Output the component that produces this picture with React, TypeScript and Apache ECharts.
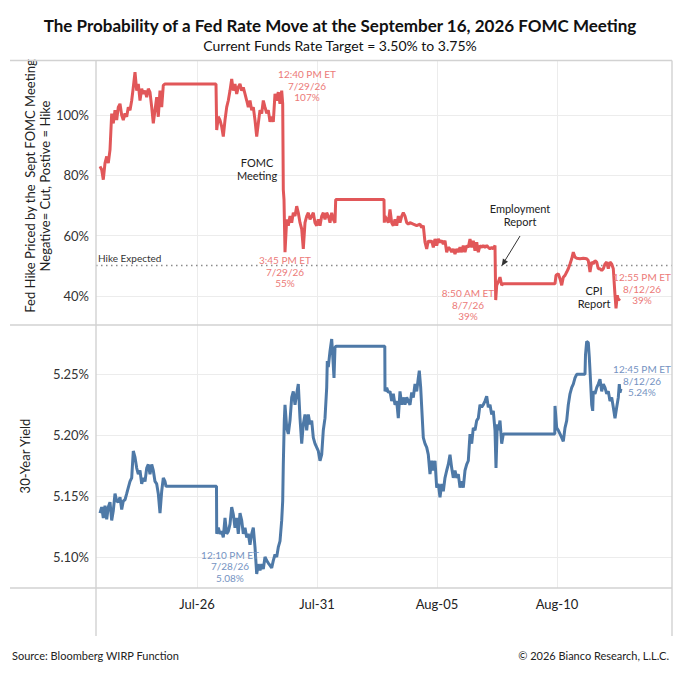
import React, { useEffect, useRef } from "react";
import * as echarts from "echarts";

// Time axis: hours since Jul 22, 2026 00:00 ET
const xTickHours = [96, 216, 336, 456];
const xTickLabels = ["Jul-26", "Jul-31", "Aug-05", "Aug-10"];
const fedTicks = [40, 60, 80, 100];
const yieldTicks = [5.1, 5.15, 5.2, 5.25];
const hikeExpectedLevel = 50;

// Fed hike priced for the Sept FOMC meeting (%), [hour, value]
const fedHike: [number, number][] = [
  [-1, 83.0], [0.7, 81.9], [2.3, 78.6], [4, 84.1], [5.7, 86.3], [7.3, 84.1], [9, 88.5], [10.7, 100.6],
  [12.3, 97.3], [14, 101.7], [15.7, 98.4], [17.3, 102.7], [19, 103.8], [20.7, 100.0], [22.3, 98.4],
  [24, 100.6], [25.7, 99.5], [27.3, 102.7], [29, 101.7], [30.7, 104.9], [32.3, 109.3], [34, 114.3],
  [35.7, 108.2], [37.3, 110.4], [39, 104.9], [40.7, 108.8], [42.3, 107.1], [44, 108.2], [45.7, 106.0],
  [47.3, 108.8], [49, 107.7], [50.7, 102.7], [52.3, 97.3], [54, 101.7], [55.7, 106.0], [57.3, 99.5],
  [59, 108.2], [60.7, 102.7], [62.3, 109.9], [64, 110.4], [115, 110.4], [115.7, 95.1], [117.3, 99.5],
  [119, 98.4], [120.7, 96.2], [122.3, 92.9], [124, 98.4], [125.7, 102.7], [127.3, 104.9], [129, 108.2],
  [130.7, 112.1], [132.3, 108.2], [134, 110.4], [135.7, 107.1], [137.3, 109.3], [139, 110.4],
  [140.7, 108.2], [142.3, 109.3], [144, 107.1], [145.7, 104.9], [147.3, 102.7], [149, 104.9],
  [150.7, 101.7], [152.3, 102.7], [154, 98.4], [155.7, 92.9], [157.3, 97.3], [159, 101.7],
  [160.7, 100.6], [162.3, 104.9], [164, 102.7], [165.7, 100.6], [167.3, 101.7], [169, 97.8],
  [170.7, 99.5], [172.3, 97.8], [174, 107.1], [175.7, 104.9], [177.3, 107.7], [179, 103.8],
  [180.7, 108.2], [181.7, 103.8], [182.3, 75.3], [183, 72.0], [184, 54.5], [185.7, 65.4], [187.3, 63.3],
  [189, 66.5], [190.7, 64.3], [192.3, 67.6], [194, 66.5], [195.7, 69.8], [197.3, 67.6], [199, 64.3],
  [200.7, 62.2], [202.3, 55.6], [204, 64.3], [205.7, 66.5], [207.3, 67.6], [209, 65.4], [210.7, 66.5],
  [212.3, 67.6], [214, 64.3], [215.7, 63.3], [217.3, 65.4], [219, 63.3], [220.7, 66.5], [222.3, 67.6],
  [224, 65.4], [225.7, 67.6], [227.3, 66.5], [229, 64.3], [230.7, 67.6], [232.3, 65.4], [234, 64.3],
  [234.7, 72.0], [283, 72.0], [283.3, 64.3], [284, 66.5], [285.7, 65.4], [287.3, 64.3], [289, 68.7],
  [290.7, 64.3], [292.3, 63.3], [294, 65.4], [295.7, 63.3], [297.3, 66.5], [299, 64.3], [300.7, 66.5],
  [302.3, 67.6], [304, 66.5], [305.7, 64.3], [307.3, 63.8], [309, 64.3], [312.3, 63.8], [315.7, 63.3],
  [319, 63.8], [320.7, 62.7], [322.3, 63.3], [324, 57.8], [325.7, 55.6], [327.3, 58.3], [329, 57.8],
  [330.7, 58.3], [332.3, 56.1], [334, 58.9], [335.7, 56.7], [337.3, 58.9], [339, 57.8], [340.7, 58.3],
  [342.3, 57.2], [344, 58.3], [345.7, 54.5], [347.3, 56.1], [349, 55.6], [350.7, 54.5], [352.3, 55.6],
  [354, 53.9], [355.7, 55.6], [357.3, 54.5], [359, 56.1], [360.7, 54.5], [362.3, 56.7], [364, 54.5],
  [365.7, 56.7], [367.3, 56.1], [369, 58.9], [370.7, 56.1], [372.3, 58.3], [374, 55.0], [375.7, 57.8],
  [377.3, 54.5], [379, 56.7], [380.7, 56.1], [382.3, 56.7], [384, 56.1], [385.7, 56.7], [387.3, 56.1],
  [389, 55.6], [390.7, 56.1], [392.3, 55.6], [394, 56.7], [394.7, 38.6], [395.7, 43.5], [397.3, 44.6],
  [399, 46.2], [400.7, 43.5], [402.3, 44.0], [454, 44.0], [455, 46.8], [457.3, 47.3], [459, 45.7],
  [460.7, 43.5], [462.3, 46.2], [464, 46.8], [465.7, 47.9], [467.3, 49.0], [469, 50.6], [470.7, 52.3],
  [472.3, 54.5], [474, 52.8], [475.7, 52.5], [479, 52.3], [482.3, 52.5], [485.7, 52.3], [487.3, 51.7],
  [489, 47.9], [490.7, 51.2], [492.3, 50.6], [494, 51.7], [495.7, 51.2], [497.3, 49.0], [499, 49.0],
  [500.7, 48.4], [502.3, 49.0], [504, 50.6], [505.7, 51.2], [507.3, 49.0], [509, 51.2], [510.7, 50.6],
  [512.3, 49.0], [514, 40.2], [515, 35.8], [516.3, 40.2], [517.3, 38.6], [519, 39.1], [519.7, 39.1],
];

// 30-year Treasury yield (%), [hour, value]
const ust30Yield: [number, number][] = [
  [-1, 5.136], [0.7, 5.141], [2.3, 5.132], [4, 5.142], [5.7, 5.131], [7.3, 5.141], [9, 5.145],
  [10.7, 5.130], [12.3, 5.138], [14, 5.152], [15.7, 5.146], [17.3, 5.145], [19, 5.149], [20.7, 5.139],
  [22.3, 5.146], [24, 5.147], [25.7, 5.152], [27.3, 5.157], [29, 5.162], [30.7, 5.165], [32.3, 5.187],
  [34, 5.182], [35.7, 5.173], [37.3, 5.168], [39, 5.171], [40.7, 5.160], [42.3, 5.165], [44, 5.162],
  [45.7, 5.173], [47.3, 5.176], [49, 5.168], [50.7, 5.176], [52.3, 5.171], [54, 5.162], [55.7, 5.160],
  [57.3, 5.152], [59, 5.136], [60.7, 5.154], [62.3, 5.165], [64, 5.162], [65, 5.158], [115.5, 5.158],
  [115.7, 5.119], [117.3, 5.124], [119, 5.119], [120.7, 5.121], [122.3, 5.116], [124, 5.132],
  [125.7, 5.119], [127.3, 5.121], [129, 5.127], [130.7, 5.141], [132.3, 5.135], [134, 5.124],
  [135.7, 5.132], [137.3, 5.119], [139, 5.136], [140.7, 5.130], [142.3, 5.119], [144, 5.124],
  [145.7, 5.116], [147.3, 5.119], [149, 5.110], [150.7, 5.119], [152.3, 5.124], [154, 5.108],
  [155.7, 5.086], [157.3, 5.094], [159, 5.089], [160.7, 5.094], [162.3, 5.090], [164, 5.100],
  [165.7, 5.097], [167.3, 5.095], [169, 5.093], [170.7, 5.091], [172.3, 5.097], [174, 5.102],
  [175.7, 5.100], [177.3, 5.108], [179, 5.113], [180.7, 5.130], [181.7, 5.146], [182.3, 5.176],
  [183.3, 5.212], [184, 5.225], [185.7, 5.206], [187.3, 5.201], [189, 5.212], [190.7, 5.231],
  [192.3, 5.236], [194, 5.225], [195.7, 5.234], [197.3, 5.242], [199, 5.214], [200.7, 5.193],
  [202.3, 5.209], [204, 5.217], [205.7, 5.204], [207.3, 5.217], [209, 5.209], [210.7, 5.212],
  [212.3, 5.198], [214, 5.193], [215.7, 5.190], [217.3, 5.187], [219, 5.179], [220.7, 5.184],
  [222.3, 5.204], [224, 5.214], [225.7, 5.239], [226.3, 5.261], [227.3, 5.256], [229, 5.269],
  [230.7, 5.279], [231.7, 5.266], [233, 5.247], [234, 5.272], [235, 5.273], [283.8, 5.273],
  [284, 5.236], [285.7, 5.239], [287.3, 5.235], [289, 5.236], [290.7, 5.228], [292.3, 5.234],
  [294, 5.225], [295.7, 5.228], [297.3, 5.214], [299, 5.236], [300.7, 5.225], [302.3, 5.231],
  [304, 5.225], [305.7, 5.231], [307.3, 5.228], [309, 5.225], [310.7, 5.235], [312.3, 5.231],
  [314, 5.242], [315.7, 5.236], [317.3, 5.247], [318.3, 5.253], [319.7, 5.239], [320.7, 5.223],
  [322.3, 5.198], [324, 5.193], [325.7, 5.190], [327.3, 5.184], [329, 5.168], [330.7, 5.179],
  [332.3, 5.171], [334, 5.179], [335.7, 5.157], [337.3, 5.160], [339, 5.149], [340.7, 5.160],
  [342.3, 5.154], [344, 5.165], [345.7, 5.171], [347.3, 5.176], [349, 5.184], [350.7, 5.173],
  [352.3, 5.165], [354, 5.171], [355.7, 5.165], [357.3, 5.168], [359, 5.157], [360.7, 5.162],
  [362.3, 5.157], [364, 5.171], [365.7, 5.176], [367.3, 5.179], [369, 5.201], [370.7, 5.193],
  [372.3, 5.206], [374, 5.204], [375.7, 5.212], [377.3, 5.214], [379, 5.225], [380.7, 5.223],
  [382.3, 5.225], [384, 5.228], [385.7, 5.232], [387.3, 5.223], [389, 5.225], [390.7, 5.217],
  [392.3, 5.220], [394, 5.204], [395, 5.173], [396.3, 5.209], [397.3, 5.204], [399, 5.212],
  [400.7, 5.193], [402.3, 5.201], [453.8, 5.201], [454, 5.224], [455.7, 5.206], [457.3, 5.204],
  [459, 5.201], [460.7, 5.198], [462.3, 5.195], [464, 5.206], [465.7, 5.212], [467.3, 5.225],
  [469, 5.234], [470.7, 5.239], [472.3, 5.242], [474, 5.247], [475.7, 5.250], [484, 5.250],
  [484.5, 5.266], [485.7, 5.277], [487.3, 5.276], [488.3, 5.264], [489.7, 5.242], [490.7, 5.225],
  [491.7, 5.220], [492.3, 5.236], [494, 5.234], [495.7, 5.239], [497.3, 5.242], [499, 5.246],
  [500.7, 5.236], [502.3, 5.242], [504, 5.239], [505.7, 5.234], [507.3, 5.236], [509, 5.228],
  [510.7, 5.231], [512.3, 5.223], [514, 5.214], [515.7, 5.223], [517.3, 5.231], [518.3, 5.242],
  [519, 5.235], [520, 5.238],
];

const FONT = "Lato, 'Noto Sans', sans-serif";
const RED = "#e15759";
const BLUE = "#4e79a7";
const RED_TXT = "#ec7a78";
const BLUE_TXT = "#7593c2";
const FRAME = "#d2d2d2";
const GRIDC = "#ececec";

function note(text: string, cx: number, top: number, color: string, size: number, lh: number) {
  return {
    type: "text",
    x: cx,
    y: top,
    silent: true,
    z: 50,
    style: {
      text,
      fill: color,
      fontSize: size,
      fontFamily: FONT,
      lineHeight: lh,
      align: "center",
      verticalAlign: "top",
      textAlign: "center",
      textVerticalAlign: "top",
    },
  };
}

function frameLine(x1: number, y1: number, x2: number, y2: number) {
  return {
    type: "line",
    silent: true,
    z: 40,
    shape: { x1, y1, x2, y2 },
    style: { stroke: FRAME, lineWidth: 1.4 },
  };
}

export default function App() {
  const ref = useRef<HTMLDivElement>(null);

  useEffect(() => {
    document.body.style.margin = "0";
    if (!ref.current) return;
    const chart = echarts.init(ref.current, undefined, { renderer: "svg" });

    const xCommon = {
      type: "value",
      min: -5,
      max: 571,
      axisLine: { show: false },
      axisTick: { show: false, customValues: xTickHours },
      splitLine: { show: true, lineStyle: { color: GRIDC, width: 1 } },
    };

    const option: any = {
      animation: false,
      backgroundColor: "#ffffff",
      textStyle: { fontFamily: FONT },
      title: [
        {
          text: "The Probability of a Fed Rate Move at the September 16, 2026 FOMC Meeting",
          left: "center",
          top: 17,
          padding: 0,
          textStyle: { fontFamily: FONT, fontSize: 17, fontWeight: "bold", color: "#111" },
        },
        {
          text: "Current Funds Rate Target = 3.50% to 3.75%",
          left: "center",
          top: 38,
          padding: 0,
          textStyle: { fontFamily: FONT, fontSize: 14, fontWeight: "normal", color: "#111" },
        },
      ],
      grid: [
        { left: 96, right: 8, top: 60.5, height: 264.5 },
        { left: 96, right: 8, top: 325, height: 263 },
      ],
      xAxis: [
        {
          ...xCommon,
          gridIndex: 0,
          axisLabel: { show: false, customValues: xTickHours },
        },
        {
          ...xCommon,
          gridIndex: 1,
          axisLabel: {
            show: true,
            customValues: xTickHours,
            formatter: (v: number) => xTickLabels[xTickHours.indexOf(v)] ?? "",
            fontFamily: FONT,
            fontSize: 13,
            color: "#222",
            margin: 9,
          },
        },
      ],
      yAxis: [
        {
          type: "value",
          gridIndex: 0,
          min: 30.3,
          max: 118.2,
          axisLine: { show: false },
          axisTick: { show: false, customValues: fedTicks },
          axisLabel: {
            customValues: fedTicks,
            formatter: (v: number) => `${v}%`,
            fontFamily: FONT,
            fontSize: 13,
            color: "#333",
            margin: 7,
          },
          splitLine: { show: true, lineStyle: { color: GRIDC, width: 1 } },
        },
        {
          type: "value",
          gridIndex: 1,
          min: 5.0745,
          max: 5.2905,
          axisLine: { show: false },
          axisTick: { show: false, customValues: yieldTicks },
          axisLabel: {
            customValues: yieldTicks,
            formatter: (v: number) => `${v.toFixed(2)}%`,
            fontFamily: FONT,
            fontSize: 13,
            color: "#333",
            margin: 7,
          },
          splitLine: { show: true, lineStyle: { color: GRIDC, width: 1 } },
        },
      ],
      series: [
        {
          name: "Fed Hike Priced",
          type: "line",
          xAxisIndex: 0,
          yAxisIndex: 0,
          data: fedHike,
          showSymbol: false,
          symbol: "none",
          lineStyle: { color: RED, width: 3 },
          itemStyle: { color: RED },
          z: 5,
          markLine: {
            silent: true,
            symbol: ["none", "none"],
            label: { show: false },
            lineStyle: { color: "#8a8a8a", type: [1.5, 3.5], width: 1.3 },
            data: [{ yAxis: hikeExpectedLevel }],
          },
        },
        {
          name: "30-Year Yield",
          type: "line",
          xAxisIndex: 1,
          yAxisIndex: 1,
          data: ust30Yield,
          showSymbol: false,
          symbol: "none",
          lineStyle: { color: BLUE, width: 3 },
          itemStyle: { color: BLUE },
          z: 5,
        },
      ],
      graphic: [
        frameLine(10, 60.5, 672, 60.5),
        frameLine(10, 325, 672, 325),
        frameLine(10, 588, 672, 588),
        frameLine(96, 60.5, 96, 636),
        frameLine(672, 60.5, 672, 636),
        {
          type: "text",
          x: 37.5,
          y: 186,
          rotation: Math.PI / 2,
          silent: true,
          style: {
            text: "Fed Hike Priced by the  Sept FOMC Meeting\nNegative= Cut, Postive = Hike",
            fill: "#222",
            fontSize: 13,
            fontFamily: FONT,
            lineHeight: 15,
            align: "center",
            verticalAlign: "middle",
            textAlign: "center",
            textVerticalAlign: "middle",
          },
        },
        {
          type: "text",
          x: 25,
          y: 456,
          rotation: Math.PI / 2,
          silent: true,
          style: {
            text: "30-Year Yield",
            fill: "#222",
            fontSize: 13,
            fontFamily: FONT,
            align: "center",
            verticalAlign: "middle",
            textAlign: "center",
            textVerticalAlign: "middle",
          },
        },
        {
          type: "text",
          x: 98,
          y: 258,
          silent: true,
          style: {
            text: "Hike Expected",
            fill: "#333",
            fontSize: 10,
            fontFamily: FONT,
            align: "left",
            verticalAlign: "middle",
            textAlign: "left",
            textVerticalAlign: "middle",
          },
        },
        note("12:40 PM ET\n7/29/26\n107%", 307, 68.3, RED_TXT, 10, 11.5),
        note("FOMC\nMeeting", 257, 156.5, "#222", 11, 12.5),
        note("3:45 PM ET\n7/29/26\n55%", 285, 254, RED_TXT, 10, 11.7),
        note("Employment\nReport", 520, 201.5, "#222", 11, 13),
        note("8:50 AM ET\n8/7/26\n39%", 468, 287, RED_TXT, 10, 11.7),
        note("CPI\nReport", 594, 283.5, "#222", 11, 13),
        note("12:55 PM ET\n8/12/26\n39%", 642, 271, RED_TXT, 10, 11.7),
        note("12:10 PM ET\n7/28/26\n5.08%", 230, 549, BLUE_TXT, 10, 11.5),
        note("12:45 PM ET\n8/12/26\n5.24%", 642, 363, BLUE_TXT, 10, 11.7),
        {
          type: "line",
          silent: true,
          z: 50,
          shape: { x1: 520, y1: 236, x2: 505.2, y2: 260.2 },
          style: { stroke: "#333", lineWidth: 1 },
        },
        {
          type: "polygon",
          silent: true,
          z: 50,
          shape: { points: [[501.7, 266], [508, 261.7], [502.9, 258.5]] },
          style: { fill: "#333" },
        },
        {
          type: "text",
          x: 12,
          y: 655,
          silent: true,
          style: {
            text: "Source: Bloomberg WIRP Function",
            fill: "#222",
            fontSize: 11,
            fontFamily: FONT,
            align: "left",
            verticalAlign: "middle",
            textAlign: "left",
            textVerticalAlign: "middle",
          },
        },
        {
          type: "text",
          x: 669,
          y: 655,
          silent: true,
          style: {
            text: "\u00A9 2026 Bianco Research, L.L.C.",
            fill: "#222",
            fontSize: 11,
            fontFamily: FONT,
            align: "right",
            verticalAlign: "middle",
            textAlign: "right",
            textVerticalAlign: "middle",
          },
        },
      ],
    };

    chart.setOption(option);
    return () => chart.dispose();
  }, []);

  return <div ref={ref} style={{ width: 680, height: 680 }} />;
}
